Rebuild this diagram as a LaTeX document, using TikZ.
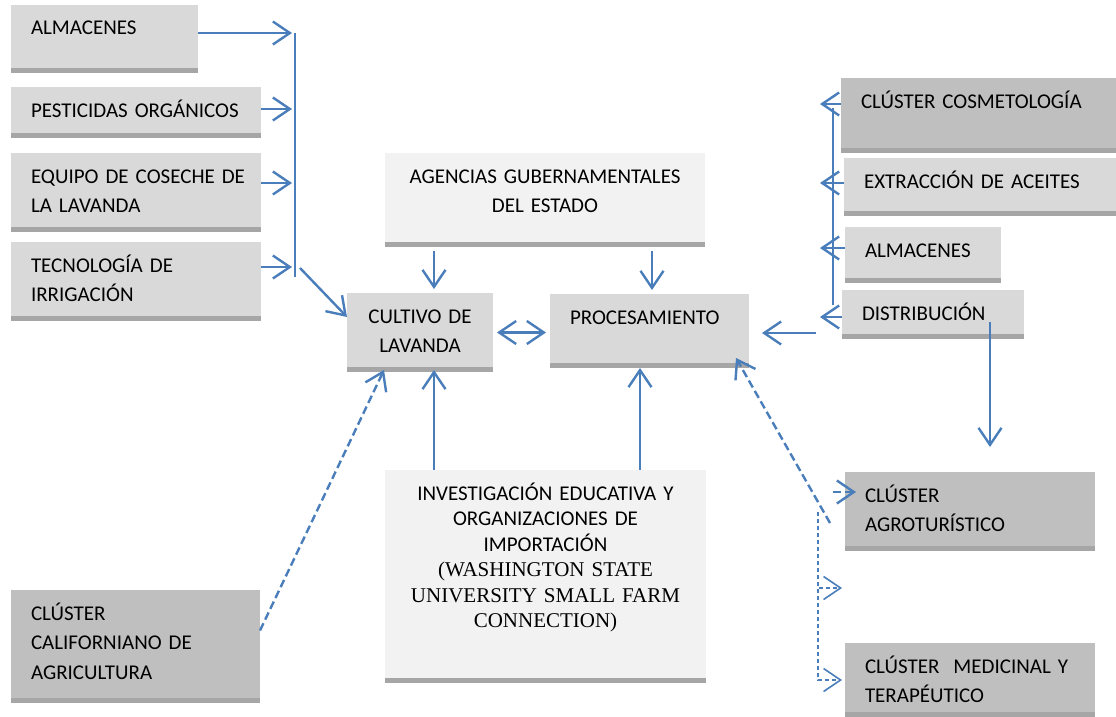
\documentclass[tikz,border=0pt]{standalone}
\usepackage{fontspec}
\setmainfont{Carlito}
\newfontfamily\timesfont{Liberation Serif}
\usetikzlibrary{arrows.meta}
\definecolor{boxA}{HTML}{D9D9D9}
\definecolor{boxB}{HTML}{F2F2F2}
\definecolor{boxC}{HTML}{BFBFBF}
\definecolor{barcol}{HTML}{A6A6A6}
\definecolor{flow}{HTML}{4A7EBB}
\tikzstyle{box} = [anchor=north west, inner sep=0pt, inner xsep=20pt, outer sep=0pt, text height=30pt, align=left,
    path picture={\fill[barcol] ([yshift=5pt]path picture bounding box.south west) rectangle (path picture bounding box.south east);}]
\tikzstyle{flowline} = [draw=flow, line width=2.4pt]
\tikzstyle{dashline} = [dash pattern=on 8pt off 4pt]
\tikzstyle{fineline} = [line width=1.6pt, dash pattern=on 4pt off 3pt]

\begin{document}
\begin{tikzpicture}[x=1pt,y=-1pt,>={Straight Barb[length=17pt,width=23pt]},font=\fontsize{21}{29.5}\selectfont]
    \useasboundingbox (0,0) rectangle (1116,717);

    % left column
    \node [box, fill=boxA, text width=147pt, text depth=38pt] (almL) at (11,5) {ALMACENES};
    \node [box, fill=boxA, text width=210pt, text depth=21pt] (pest) at (11,87) {PESTICIDAS~ORGÁNICOS};
    \node [box, fill=boxA, text width=210pt, text depth=49pt] (equipo) at (11,153) {EQUIPO~DE~COSECHE~DE\\LA LAVANDA};
    \node [box, fill=boxA, text width=210pt, text depth=49pt] (tecno) at (11,242) {TECNOLOGÍA DE\\IRRIGACIÓN};
    \node [box, fill=boxC, text width=209pt, text depth=83pt] (calif) at (11,590) {CLÚSTER\\CALIFORNIANO~DE\\AGRICULTURA};

    % centre
    \node [box, fill=boxB, inner xsep=10pt, text width=300pt, text depth=64pt, align=center] (agencias) at (385,153) {AGENCIAS~GUBERNAMENTALES\\DEL ESTADO};
    \node [box, fill=boxA, inner xsep=10pt, text width=126pt, text depth=49pt, align=center] (cultivo) at (347,293) {CULTIVO~DE\\LAVANDA};
    \node [box, fill=boxA, text width=159pt, text depth=44pt] (proc) at (550,294) {PROCESAMIENTO};
    \node [box, fill=boxB, inner xsep=10pt, text width=301pt, text depth=183pt, align=center,
        font=\fontsize{21}{25.5}\selectfont] (invest) at (385,470)
        {INVESTIGACIÓN~EDUCATIVA~Y\\ORGANIZACIONES DE\\IMPORTACIÓN\\{\timesfont (WASHINGTON~STATE\\UNIVERSITY~SMALL~FARM\\CONNECTION)}};

    % right column
    \node [box, fill=boxC, text width=235pt, text depth=45pt] (cosmet) at (841,78) {CLÚSTER~COSMETOLOGÍA};
    \node [box, fill=boxA, text width=232pt, text depth=28pt] (extrac) at (844,158) {EXTRACCIÓN~DE~ACEITES};
    \node [box, fill=boxA, text width=116pt, text depth=26pt] (almR) at (845,227) {ALMACENES};
    \node [box, fill=boxA, text width=142pt, text depth=19pt] (distrib) at (842,290) {DISTRIBUCIÓN};
    \node [box, fill=boxC, text width=210pt, text depth=49pt] (agro) at (845,472) {CLÚSTER\\AGROTURÍSTICO};
    \node [box, fill=boxC, text width=210pt, text depth=44pt] (medic) at (845,643) {CLÚSTER\ \ MEDICINAL~Y\\TERAPÉUTICO};

    % inputs
    \coordinate (inA) at (292,33);
    \coordinate (inB) at (292,109);
    \coordinate (inC) at (292,183);
    \coordinate (inD) at (292,267);
    \coordinate (busT) at (295,33);
    \coordinate (busB) at (295,277);
    \coordinate (busD) at (300,268);
    \draw [flowline,->] (almL.east |- inA) -- (inA);
    \draw [flowline,->] (pest.east |- inB) -- (inB);
    \draw [flowline,->] (equipo.east |- inC) -- (inC);
    \draw [flowline,->] (tecno.east |- inD) -- (inD);
    \draw [flowline] (busT) -- (busB);
    \draw [flowline,->] (busD) -- ([yshift=-24pt]cultivo.north west);

    % agencies and research
    \coordinate (agL) at ([xshift=-111pt]agencias.south);
    \coordinate (agR) at ([xshift=107pt]agencias.south);
    \draw [flowline,->,shorten <=4pt,shorten >=4pt] (agL) -- (agL |- cultivo.north);
    \draw [flowline,->,shorten <=4pt,shorten >=4pt] (agR) -- (agR |- proc.north);
    \draw [flowline,<->,shorten <=4pt,shorten >=4pt] (cultivo.east) -- (cultivo.east -| proc.west);
    \coordinate (ivL) at ([xshift=-111.5pt]invest.north);
    \coordinate (ivR) at ([xshift=94.5pt]invest.north);
    \draw [flowline,->,shorten >=-2pt] (ivL) -- (ivL |- cultivo.south);
    \draw [flowline,->] (ivR) -- (ivR |- proc.south);
    \draw [flowline,dashline,->] ([yshift=16pt]calif.east) -- ([xshift=37pt,yshift=2pt]cultivo.south west);

    % outputs
    \coordinate (outA) at (820,104);
    \coordinate (outB) at (820,183);
    \coordinate (outC) at (820,248);
    \coordinate (outD) at (820,317);
    \coordinate (busRT) at (833,108);
    \coordinate (busRB) at (833,305);
    \draw [flowline,->] (cosmet.west |- outA) -- (outA);
    \draw [flowline,->] (extrac.west |- outB) -- (outB);
    \draw [flowline,->] (almR.west |- outC) -- (outC);
    \draw [flowline,->] (distrib.west |- outD) -- (outD);
    \draw [flowline] (busRT) -- (busRB);
    \coordinate (toProc) at (816,333);
    \draw [flowline,->,shorten >=13pt] (toProc) -- (toProc -| proc.east);
    \coordinate (distD) at ([xshift=57pt,yshift=17pt]distrib.south);
    \draw [flowline,->,shorten >=25pt] (distD) -- (distD |- agro.north);

    % dashed links
    \coordinate (agroIn) at (833,492);
    \draw [flowline,dashline,->,shorten >=-11pt] (agroIn) -- (agroIn -| agro.west);
    \coordinate (backUp) at (830,523);
    \draw [flowline,dashline,->] (backUp) -- ([xshift=-13pt,yshift=10pt]proc.south east);
    \coordinate (fineTop) at (818,512);
    \coordinate (fineMid) at (842,588);
    \draw [flowline,fineline,->] (fineTop) |- (fineMid);
    \draw [flowline,fineline,->,shorten >=3pt] (fineTop) |- (medic.west);
\end{tikzpicture}
\end{document}
